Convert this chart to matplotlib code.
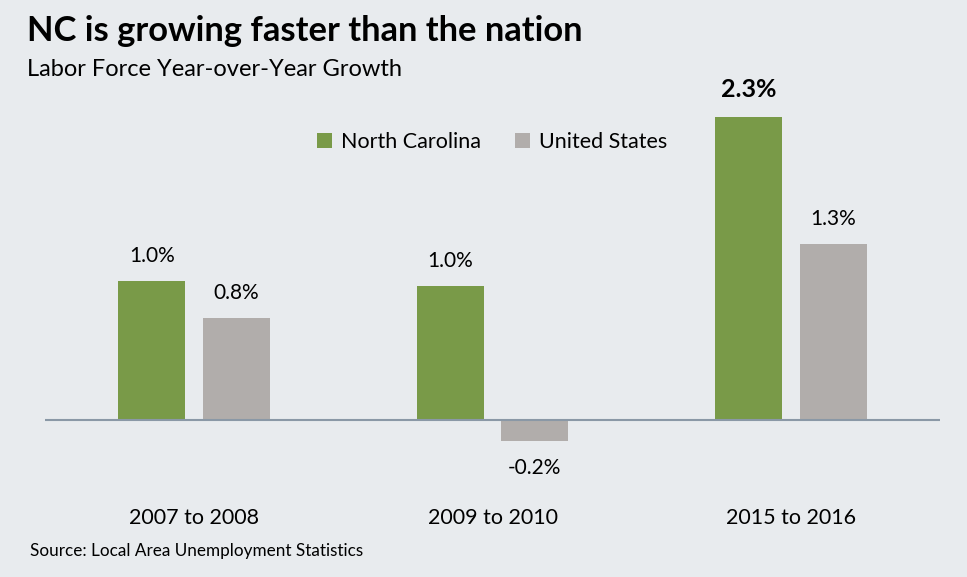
import matplotlib.pyplot as plt
import numpy as np

# data
periods = ['2007 to 2008', '2009 to 2010', '2015 to 2016']
nc_growth = [1.04, 1.00, 2.26]
us_growth = [0.76, -0.16, 1.31]
series_names = ['North Carolina', 'United States']

green = '#799a48'
grey = '#b1adab'
bg = '#e8ebee'

plt.rcParams['font.family'] = ['Lato', 'DejaVu Sans']

W, H = 967, 577
fig = plt.figure(figsize=(W / 100, H / 100), dpi=100)
fig.set_facecolor(bg)

# axes placed in pixel terms: x 45..940, y 60..480 (from top)
ax = fig.add_axes([45 / W, 1 - 480 / H, (940 - 45) / W, (480 - 60) / H])
ax.set_facecolor(bg)
px = 134.0  # pixels per percentage point
ax.set_ylim(-(480 - 420) / px, (420 - 60) / px)
ax.set_xlim(-0.5, 2.5)

x = np.arange(len(periods))
bw = 67 / 299
off = 42.5 / 299
b1 = ax.bar(x - off, nc_growth, bw, color=green, label=series_names[0], zorder=2)
b2 = ax.bar(x + off, us_growth, bw, color=grey, label=series_names[1], zorder=2)

ax.axhline(0, color='#8a98a6', lw=1.5, zorder=3)

for s in ax.spines.values():
    s.set_visible(False)
ax.set_yticks([])
ax.set_xticks(x)
ax.set_xticklabels(periods, fontsize=15.5)
ax.tick_params(axis='x', length=0, pad=20)

# value labels
top = max(nc_growth)
for bars, vals in ((b1, nc_growth), (b2, us_growth)):
    for rect, v in zip(bars, vals):
        cx = rect.get_x() + rect.get_width() / 2
        txt = f'{v:.1f}%'
        if v == top:
            ax.text(cx, v + 28 / px, txt, ha='center', va='center', fontsize=18,
                    fontweight='bold', color='black')
        elif v >= 0:
            ax.text(cx, v + 25 / px, txt, ha='center', va='center', fontsize=15, color='black')
        else:
            ax.text(cx, v - 27 / px, txt, ha='center', va='center', fontsize=15, color='black')

ax.legend(loc='center', bbox_to_anchor=(492 / W, 1 - 142 / H), bbox_transform=fig.transFigure,
          ncol=2, frameon=False, fontsize=15.5, handlelength=0.7, handleheight=0.7,
          handletextpad=0.4, columnspacing=1.6)

fig.text(27 / W, 1 - 31 / H, 'NC is growing faster than the nation', fontsize=24.8,
         fontweight='bold', va='center', ha='left')
fig.text(27 / W, 1 - 70 / H, 'Labor Force Year-over-Year Growth', fontsize=17,
         va='center', ha='left')
fig.text(30 / W, 1 - 551 / H, 'Source: Local Area Unemployment Statistics', fontsize=12.3,
         va='center', ha='left')

plt.savefig('out.png', dpi=100, facecolor=bg)
